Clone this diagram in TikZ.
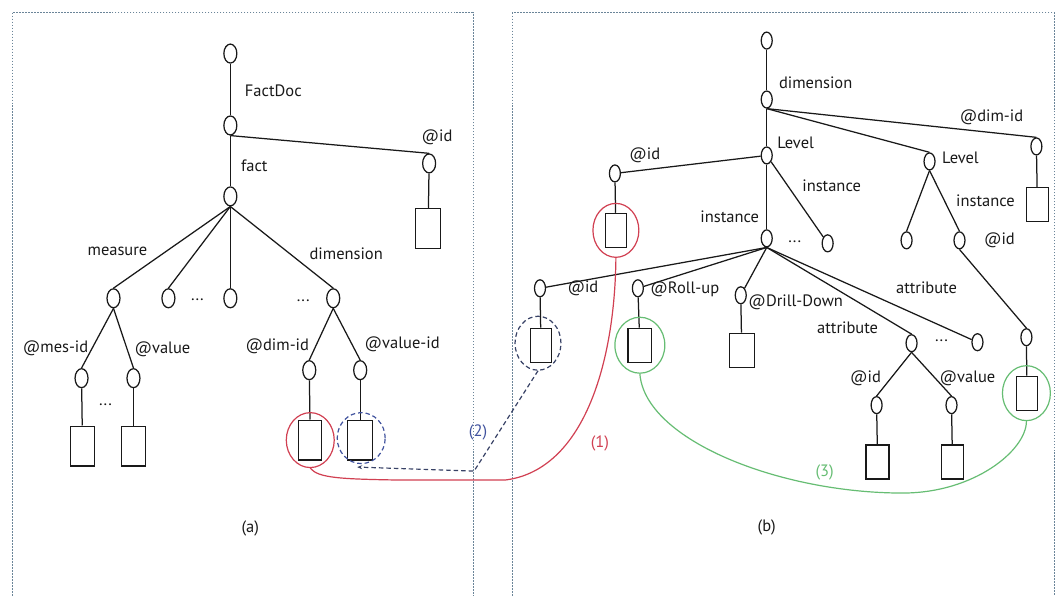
\documentclass[tikz,border=0pt]{standalone}
\usepackage{fontspec}
\setmainfont{PT Sans}
\usetikzlibrary{shapes.geometric,arrows.meta}
\definecolor{panelc}{rgb}{0.42,0.52,0.60}
\definecolor{redc}{rgb}{0.82,0.25,0.32}
\definecolor{greenc}{rgb}{0.40,0.74,0.45}
\definecolor{bluec}{rgb}{0.25,0.32,0.62}
\definecolor{dashc}{rgb}{0.22,0.26,0.40}
\definecolor{inkc}{rgb}{0.10,0.10,0.10}
\begin{document}
\begin{tikzpicture}[x=1pt,y=-1pt,
  every path/.style={line width=1.25pt, draw=inkc},
  ov/.style={draw=inkc, ellipse, minimum width=13pt, minimum height=19pt, inner sep=0pt, line width=1.25pt},
  ovs/.style={draw=inkc, ellipse, minimum width=11pt, minimum height=17pt, inner sep=0pt, line width=1.25pt},
  bxl/.style={draw=inkc, rectangle, minimum width=24pt, minimum height=40pt, inner sep=0pt, line width=1.25pt},
  bxs/.style={draw=inkc, rectangle, minimum width=22pt, minimum height=34pt, inner sep=0pt, line width=1.25pt},
  lbl/.style={inner sep=0pt, text=inkc, font=\fontsize{16.5}{18}\selectfont},
  hl/.style={ellipse, inner sep=0pt, minimum width=48pt, minimum height=55pt, line width=1.2pt},
  dsh/.style={dash pattern=on 4.5pt off 3pt},
  panel/.style={draw=panelc, line width=0.9pt, dash pattern=on 1.6pt off 1.4pt},
]
\useasboundingbox (0,0) rectangle (1056,595);
\fill[white] (0,0) rectangle (1056,595);
% panels
\draw[panel] (12,12) rectangle (473,620);
\draw[panel] (512,12) rectangle (1055,620);

% ---------- left tree (a) ----------
\node[ov] (a0) at (230,53) {};
\node[ov] (a1) at (230,125) {};
\node[ov] (a2) at (230,196) {};
\node[ov] (aid) at (429,163) {};
\node[bxl, minimum width=25pt] (aidb) at (428,228) {};
\node[ov] (am) at (113,298) {};
\node[ov] (ax) at (168,298) {};
\node[ov] (ay) at (230,298) {};
\node[ov] (ad) at (333,298) {};
\node[ov] (amid) at (81,378) {};
\node[ov] (aval) at (133,378) {};
\node[bxl] (amidb) at (82,446) {};
\node[bxl] (avalb) at (133,446) {};
\node[ov] (adid) at (309,370) {};
\node[ov] (avid) at (360,370) {};
\node[bxl, minimum width=23pt] (adidb) at (310,440) {};
\node[bxl, minimum width=25pt] (avidb) at (360,440) {};

\draw (a0) -- (a1);
\draw (a1) -- (a2);
\draw (a1.south) -- (aid.north);
\draw (aid) -- (aidb);
\draw (a2.south) -- (am.north);
\draw (a2.south) -- (ax.north);
\draw (a2.south) -- (ay.north);
\draw (a2.south) -- (ad.north);
\draw (am.south) -- (amid.north);
\draw (am.south) -- (aval.north);
\draw (amid) -- (amidb);
\draw (aval) -- (avalb);
\draw (ad.south) -- (adid.north);
\draw (ad.south) -- (avid.north);
\draw (adid) -- (adidb);
\draw (avid) -- (avidb);

\node[lbl] (tFactDoc) at (273,90) {FactDoc};
\node[lbl] (tfact) at (254,165) {fact};
\node[lbl] (taid) at (437,137) {@id};
\node[lbl] (tmeasure) at (117,251) {measure};
\node[lbl] (tadim) at (346,253) {dimension};
\node[lbl] (tmesid) at (55,348) {@mes-id};
\node[lbl] (tval) at (162,349) {@value};
\node[lbl] (tdimid) at (277,346) {@dim-id};
\node[lbl] (tvalid) at (402,344) {@value-id};
\node[lbl] (td1) at (197,299) {...};
\node[lbl] (td2) at (303,300) {...};
\node[lbl] (td3) at (105,405) {...};
\node[lbl] (ta) at (250,528) {(a)};

% ---------- right tree (b) ----------
\node[ovs] (b0) at (767,40) {};
\node[ovs] (b1) at (767,99) {};
\node[ovs] (b2) at (767,155) {};
\node[ovs] (bdid) at (1037,146) {};
\node[bxs] (bdidb) at (1038,204) {};
\node[ovs] (bl2) at (930,161) {};
\node[ovs] (bid) at (615,173) {};
\node[bxs, minimum width=21pt] (bidb) at (616,230) {};
\node[ovs] (b3) at (767,238) {};
\node[ovs] (bi2) at (828,243) {};
\node[ovs] (bl2a) at (907,240) {};
\node[ovs] (bl2b) at (960,240) {};
\node[ovs] (bl2c) at (1027,337) {};
\node[bxs, minimum width=21pt] (bl2cb) at (1027.5,393) {};
\node[ovs] (bi) at (540,288) {};
\node[bxs, minimum width=21pt] (bib) at (541,345) {};
\node[ovs] (br) at (638,288) {};
\node[bxs, minimum width=24pt] (brb) at (640,345) {};
\node[ovs] (bdd) at (741,295) {};
\node[bxs, minimum width=25pt] (bddb) at (742,350) {};
\node[ovs] (bat) at (912,343) {};
\node[ovs] (bat2) at (978,342) {};
\node[ovs] (baid) at (877,405) {};
\node[ovs] (bav) at (952,405) {};
\node[bxs, minimum width=23pt] (baidb) at (878,462) {};
\node[bxs] (bavb) at (953,462) {};

\draw (b0) -- (b1);
\draw (b1) -- (b2);
\draw (b1.south) -- (bdid.north);
\draw (b1.south) -- (bl2.north);
\draw (bdid) -- (bdidb);
\draw (b2) -- (bid);
\draw (bid) -- (bidb);
\draw (b2) -- (b3);
\draw (b2) -- (bi2);
\draw (bl2.south) -- (bl2a.north);
\draw (bl2.south) -- (bl2b.north);
\draw (bl2b.south) -- (bl2c.north);
\draw (bl2c) -- (bl2cb);
\draw (b3.south) -- (bi);
\draw (b3.south) -- (br);
\draw (b3.south) -- (bdd);
\draw (b3.south) -- (bat.north);
\draw (b3.south) -- (bat2);
\draw (bi) -- (bib);
\draw (br) -- (brb);
\draw (bdd) -- (bddb);
\draw (bat.south) -- (baid.north);
\draw (bat.south) -- (bav.north);
\draw (baid) -- (baidb);
\draw (bav) -- (bavb);

\node[lbl] (tbdim) at (816,82) {dimension};
\node[lbl] (tbdimid) at (992,117) {@dim-id};
\node[lbl] (tlev1) at (796,142) {Level};
\node[lbl] (tlev2) at (961,157) {Level};
\node[lbl] (tbid) at (645,155) {@id};
\node[lbl] (tinst1) at (832,185) {instance};
\node[lbl] (tinst2) at (730,216) {instance};
\node[lbl] (tinst3) at (986,200) {instance};
\node[lbl] (tbid2) at (1000,240) {@id};
\node[lbl] (tbd1) at (795,241) {...};
\node[lbl] (tbid3) at (583,288) {@id};
\node[lbl] (troll) at (685,289) {@Roll-up};
\node[lbl] (tdrill) at (796,302) {@Drill-Down};
\node[lbl] (tattr1) at (927,287) {attribute};
\node[lbl] (tattr2) at (848,328) {attribute};
\node[lbl] (tbd2) at (942,341) {...};
\node[lbl] (tbid4) at (866,378) {@id};
\node[lbl] (tbval) at (968,378) {@value};
\node[lbl] (tb) at (767,527) {(b)};

% ---------- highlight circles ----------
\node[hl, draw=redc] (cred1) at (310,440) {};
\node[hl, draw=bluec, dsh, minimum height=51pt] (cblue1) at (361,438) {};
\node[hl, draw=redc, minimum width=46pt, minimum height=54pt] (cred2) at (616,230) {};
\node[hl, draw=dashc, dsh, minimum width=46pt, minimum height=54pt] (cdash2) at (538,343) {};
\node[hl, draw=greenc, minimum width=50pt, minimum height=56pt] (cg1) at (640,345) {};
\node[hl, draw=greenc, minimum height=55pt] (cg2) at (1027,393) {};

% ---------- links ----------
\draw[redc, line width=1.2pt] (cred1.south) .. controls (318,478) and (340,479) .. (400,480)
   -- (505,480) .. controls (585,470) and (615,360) .. (cred2.south);
\node[lbl, text=redc] (t1) at (600,443) {(1)};

\coordinate (bend2) at (474,471);
\coordinate (end2) at (357,467);
\draw[dashc, dsh, line width=1.2pt, -{Stealth[length=5pt,width=4pt]}] (cdash2.south) -- (bend2) -- (end2);
\node[lbl, text=bluec] (t2) at (478,432) {(2)};

\draw[greenc, line width=1.2pt] (cg1.south) .. controls (645,440) and (780,493) .. (903,493)
   .. controls (975,493) and (1027,450) .. (cg2.south);
\node[lbl, text=greenc] (t3) at (825,472) {(3)};
\end{tikzpicture}
\end{document}
